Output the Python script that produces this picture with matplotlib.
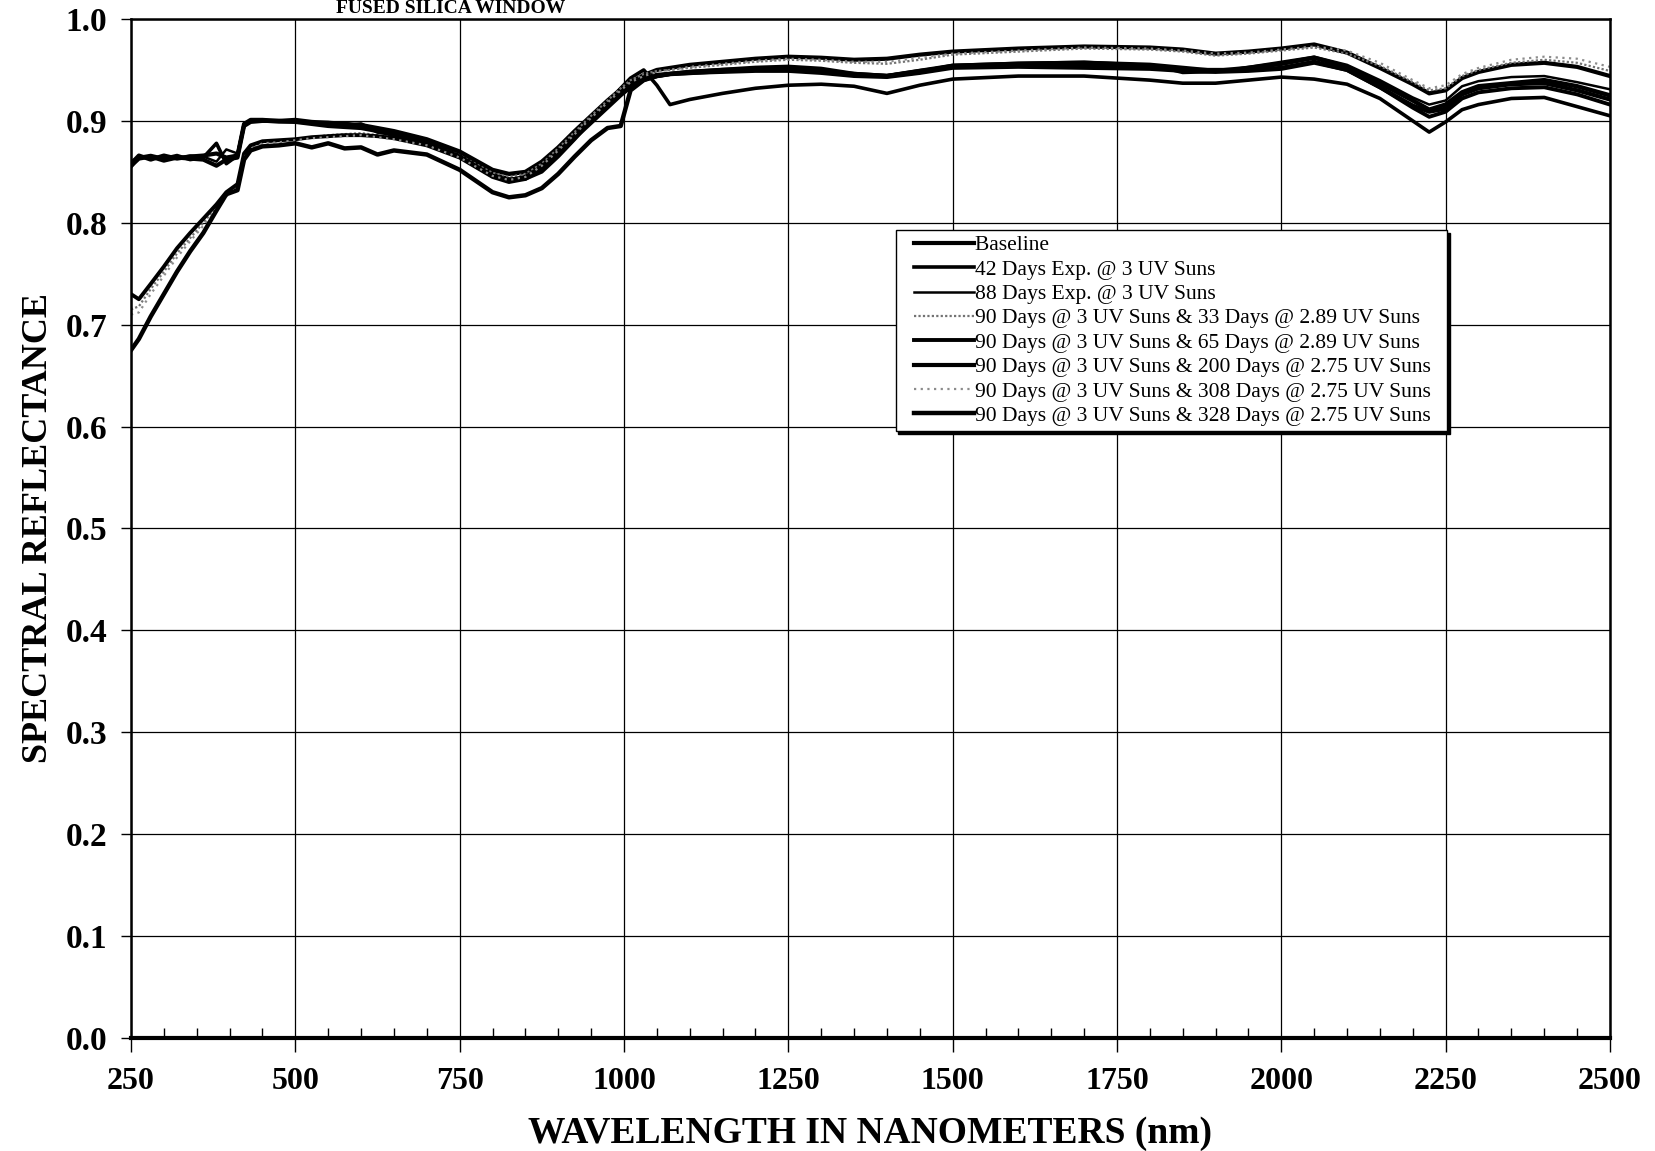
import matplotlib
matplotlib.use("Agg")
import matplotlib.pyplot as plt
from matplotlib.lines import Line2D
from matplotlib.legend_handler import HandlerLine2D
from matplotlib.ticker import MultipleLocator, FormatStrFormatter

# wavelength nodes (nm)
wavelength = [250, 262, 280, 300, 320, 340, 360, 380, 395, 412, 422, 432, 450, 475,
              500, 525, 550, 575, 600, 625, 650, 700, 750, 800, 825, 850, 875, 900,
              925, 950, 975, 995, 1010, 1030, 1050, 1070, 1100, 1150, 1200, 1250,
              1300, 1350, 1400, 1450, 1500, 1600, 1700, 1800, 1850, 1900, 1950, 2000,
              2050, 2100, 2150, 2200, 2225, 2250, 2275, 2300, 2350, 2400, 2450, 2500]

baseline = [0.858, 0.866, 0.862, 0.866, 0.863, 0.865, 0.866, 0.868, 0.864, 0.866, 0.897, 0.901, 0.901, 0.900,
            0.901, 0.899, 0.898, 0.897, 0.896, 0.893, 0.890, 0.882, 0.870, 0.852, 0.848, 0.850, 0.860, 0.874,
            0.890, 0.905, 0.920, 0.931, 0.938, 0.945, 0.950, 0.952, 0.955, 0.958, 0.961, 0.963,
            0.962, 0.960, 0.961, 0.965, 0.968, 0.971, 0.973, 0.972, 0.970, 0.966, 0.968, 0.971,
            0.975, 0.967, 0.952, 0.936, 0.927, 0.930, 0.942, 0.948, 0.955, 0.957, 0.953, 0.944]

days42 = [0.855, 0.864, 0.866, 0.863, 0.866, 0.862, 0.864, 0.878, 0.858, 0.866, 0.896, 0.900, 0.900, 0.899,
          0.899, 0.898, 0.897, 0.895, 0.897, 0.889, 0.887, 0.879, 0.866, 0.848, 0.843, 0.843, 0.850, 0.865,
          0.882, 0.900, 0.918, 0.932, 0.942, 0.950, 0.935, 0.916, 0.921, 0.927, 0.932, 0.935,
          0.936, 0.934, 0.927, 0.935, 0.941, 0.944, 0.944, 0.940, 0.937, 0.937, 0.940, 0.943,
          0.941, 0.936, 0.922, 0.900, 0.889, 0.899, 0.911, 0.916, 0.922, 0.923, 0.914, 0.905]

days88 = [0.860, 0.865, 0.864, 0.864, 0.864, 0.866, 0.865, 0.860, 0.872, 0.868, 0.897, 0.900, 0.901, 0.900,
          0.900, 0.899, 0.899, 0.898, 0.895, 0.892, 0.889, 0.881, 0.869, 0.851, 0.847, 0.849, 0.858, 0.872,
          0.888, 0.904, 0.919, 0.930, 0.937, 0.943, 0.946, 0.947, 0.949, 0.951, 0.953, 0.954,
          0.952, 0.947, 0.945, 0.950, 0.955, 0.957, 0.958, 0.955, 0.947, 0.948, 0.953, 0.958,
          0.963, 0.955, 0.940, 0.923, 0.916, 0.920, 0.934, 0.939, 0.943, 0.944, 0.938, 0.931]

days90_33 = [0.715, 0.718, 0.735, 0.752, 0.770, 0.785, 0.800, 0.815, 0.828, 0.836, 0.866, 0.874, 0.879, 0.880,
             0.882, 0.884, 0.886, 0.887, 0.888, 0.886, 0.884, 0.878, 0.866, 0.849, 0.845, 0.848, 0.858, 0.873,
             0.889, 0.905, 0.920, 0.932, 0.940, 0.946, 0.949, 0.950, 0.952, 0.955, 0.958, 0.960,
             0.959, 0.957, 0.956, 0.960, 0.965, 0.968, 0.971, 0.970, 0.968, 0.964, 0.966, 0.969,
             0.972, 0.966, 0.954, 0.938, 0.930, 0.932, 0.944, 0.950, 0.957, 0.960, 0.957, 0.949]

days90_65 = [0.730, 0.725, 0.740, 0.757, 0.775, 0.790, 0.804, 0.818, 0.830, 0.838, 0.868, 0.876, 0.880, 0.881,
             0.882, 0.884, 0.885, 0.886, 0.886, 0.885, 0.883, 0.876, 0.864, 0.845, 0.840, 0.843, 0.853, 0.867,
             0.883, 0.898, 0.913, 0.925, 0.933, 0.940, 0.944, 0.946, 0.947, 0.948, 0.949, 0.949,
             0.947, 0.944, 0.943, 0.947, 0.952, 0.953, 0.952, 0.951, 0.949, 0.948, 0.949, 0.951,
             0.957, 0.950, 0.933, 0.913, 0.904, 0.909, 0.922, 0.928, 0.932, 0.933, 0.926, 0.916]

days90_200 = [0.856, 0.863, 0.865, 0.861, 0.864, 0.863, 0.862, 0.856, 0.862, 0.864, 0.895, 0.899, 0.900, 0.900,
              0.899, 0.897, 0.895, 0.894, 0.893, 0.890, 0.886, 0.878, 0.865, 0.846, 0.842, 0.845, 0.855, 0.869,
              0.885, 0.900, 0.915, 0.927, 0.935, 0.941, 0.944, 0.946, 0.948, 0.950, 0.951, 0.952,
              0.950, 0.945, 0.944, 0.949, 0.953, 0.955, 0.954, 0.952, 0.950, 0.950, 0.950, 0.952,
              0.958, 0.950, 0.933, 0.915, 0.909, 0.912, 0.926, 0.932, 0.936, 0.937, 0.930, 0.921]

days90_308 = [0.710, 0.712, 0.730, 0.748, 0.766, 0.782, 0.797, 0.812, 0.826, 0.834, 0.864, 0.872, 0.878, 0.879,
              0.881, 0.883, 0.884, 0.885, 0.886, 0.884, 0.882, 0.876, 0.864, 0.846, 0.842, 0.845, 0.856, 0.871,
              0.887, 0.903, 0.918, 0.930, 0.938, 0.944, 0.948, 0.950, 0.953, 0.956, 0.959, 0.961,
              0.960, 0.958, 0.958, 0.962, 0.966, 0.969, 0.972, 0.971, 0.969, 0.966, 0.967, 0.970,
              0.973, 0.969, 0.957, 0.940, 0.932, 0.935, 0.946, 0.952, 0.960, 0.963, 0.961, 0.953]

days90_328 = [0.675, 0.686, 0.708, 0.730, 0.752, 0.772, 0.790, 0.812, 0.828, 0.832, 0.862, 0.871, 0.875, 0.876,
              0.878, 0.874, 0.878, 0.873, 0.874, 0.867, 0.871, 0.867, 0.852, 0.830, 0.825, 0.827, 0.834, 0.848,
              0.865, 0.881, 0.893, 0.895, 0.930, 0.940, 0.944, 0.946, 0.947, 0.949, 0.951, 0.951,
              0.949, 0.946, 0.944, 0.948, 0.954, 0.956, 0.957, 0.955, 0.952, 0.949, 0.952, 0.956,
              0.962, 0.953, 0.937, 0.920, 0.911, 0.916, 0.928, 0.934, 0.937, 0.940, 0.934, 0.925]

labels = ["Baseline",
          "42 Days Exp. @ 3 UV Suns",
          "88 Days Exp. @ 3 UV Suns",
          "90 Days @ 3 UV Suns & 33 Days @ 2.89 UV Suns",
          "90 Days @ 3 UV Suns & 65 Days @ 2.89 UV Suns",
          "90 Days @ 3 UV Suns & 200 Days @ 2.75 UV Suns",
          "90 Days @ 3 UV Suns & 308 Days @ 2.75 UV Suns",
          "90 Days @ 3 UV Suns & 328 Days @ 2.75 UV Suns"]
series = [baseline, days42, days88, days90_33, days90_65, days90_200, days90_308, days90_328]

styles = [dict(color="black", lw=3.0, ls="-"),
          dict(color="black", lw=2.6, ls="-"),
          dict(color="black", lw=1.8, ls="-"),
          dict(color="0.45", lw=1.6, ls=(0, (1, 1))),
          dict(color="black", lw=2.8, ls="-"),
          dict(color="black", lw=3.0, ls="-"),
          dict(color="0.55", lw=1.6, ls=(0, (1, 2))),
          dict(color="black", lw=3.2, ls="-")]

plt.rcParams["font.family"] = ["Liberation Serif", "DejaVu Serif"]

fig = plt.figure(figsize=(16.56, 11.51), dpi=100)
ax = fig.add_axes([0.0791, 0.0982, 0.8931, 0.8853])

for y, lab, st in zip(series, labels, styles):
    ax.plot(wavelength, y, label=lab + "  ", **st)

ax.set_xlim(250, 2500)
ax.set_ylim(0.0, 1.0)
ax.xaxis.set_major_locator(MultipleLocator(250))
ax.xaxis.set_minor_locator(MultipleLocator(50))
ax.yaxis.set_major_locator(MultipleLocator(0.1))
ax.yaxis.set_major_formatter(FormatStrFormatter("%.1f"))
ax.grid(True, which="major", color="black", lw=0.9)

ax.tick_params(axis="x", which="major", direction="out", length=10, width=1,
               pad=11, labelsize=23)
ax.tick_params(axis="x", which="minor", direction="in", length=7, width=1)
ax.tick_params(axis="y", which="major", direction="out", length=7, width=1,
               pad=10, labelsize=24)
for lab in ax.get_xticklabels() + ax.get_yticklabels():
    lab.set_fontweight("bold")

for s in ax.spines.values():
    s.set_linewidth(1.8)
ax.spines["bottom"].set_linewidth(3)

ax.set_xlabel("WAVELENGTH IN NANOMETERS (nm)", fontsize=27, fontweight="bold", labelpad=14)
ax.set_ylabel("SPECTRAL REFLECTANCE", fontsize=26, fontweight="bold", labelpad=8)

fig.text(0.203, 1.0, "FUSED SILICA WINDOW", fontsize=14, fontweight="bold",
         ha="left", va="top")

leg = ax.legend(loc="upper left", bbox_to_anchor=(0.517, 0.793), fontsize=15.5,
                frameon=True, fancybox=False, shadow={"color": "black", "alpha": 1},
                handlelength=3.4, handletextpad=0.05, labelspacing=0.2,
                borderpad=0.25, borderaxespad=0,
                handler_map={Line2D: HandlerLine2D(xpad=0.6)})
leg.get_frame().set_edgecolor("black")
leg.get_frame().set_linewidth(1.0)

fig.savefig("out.png", dpi=100)
